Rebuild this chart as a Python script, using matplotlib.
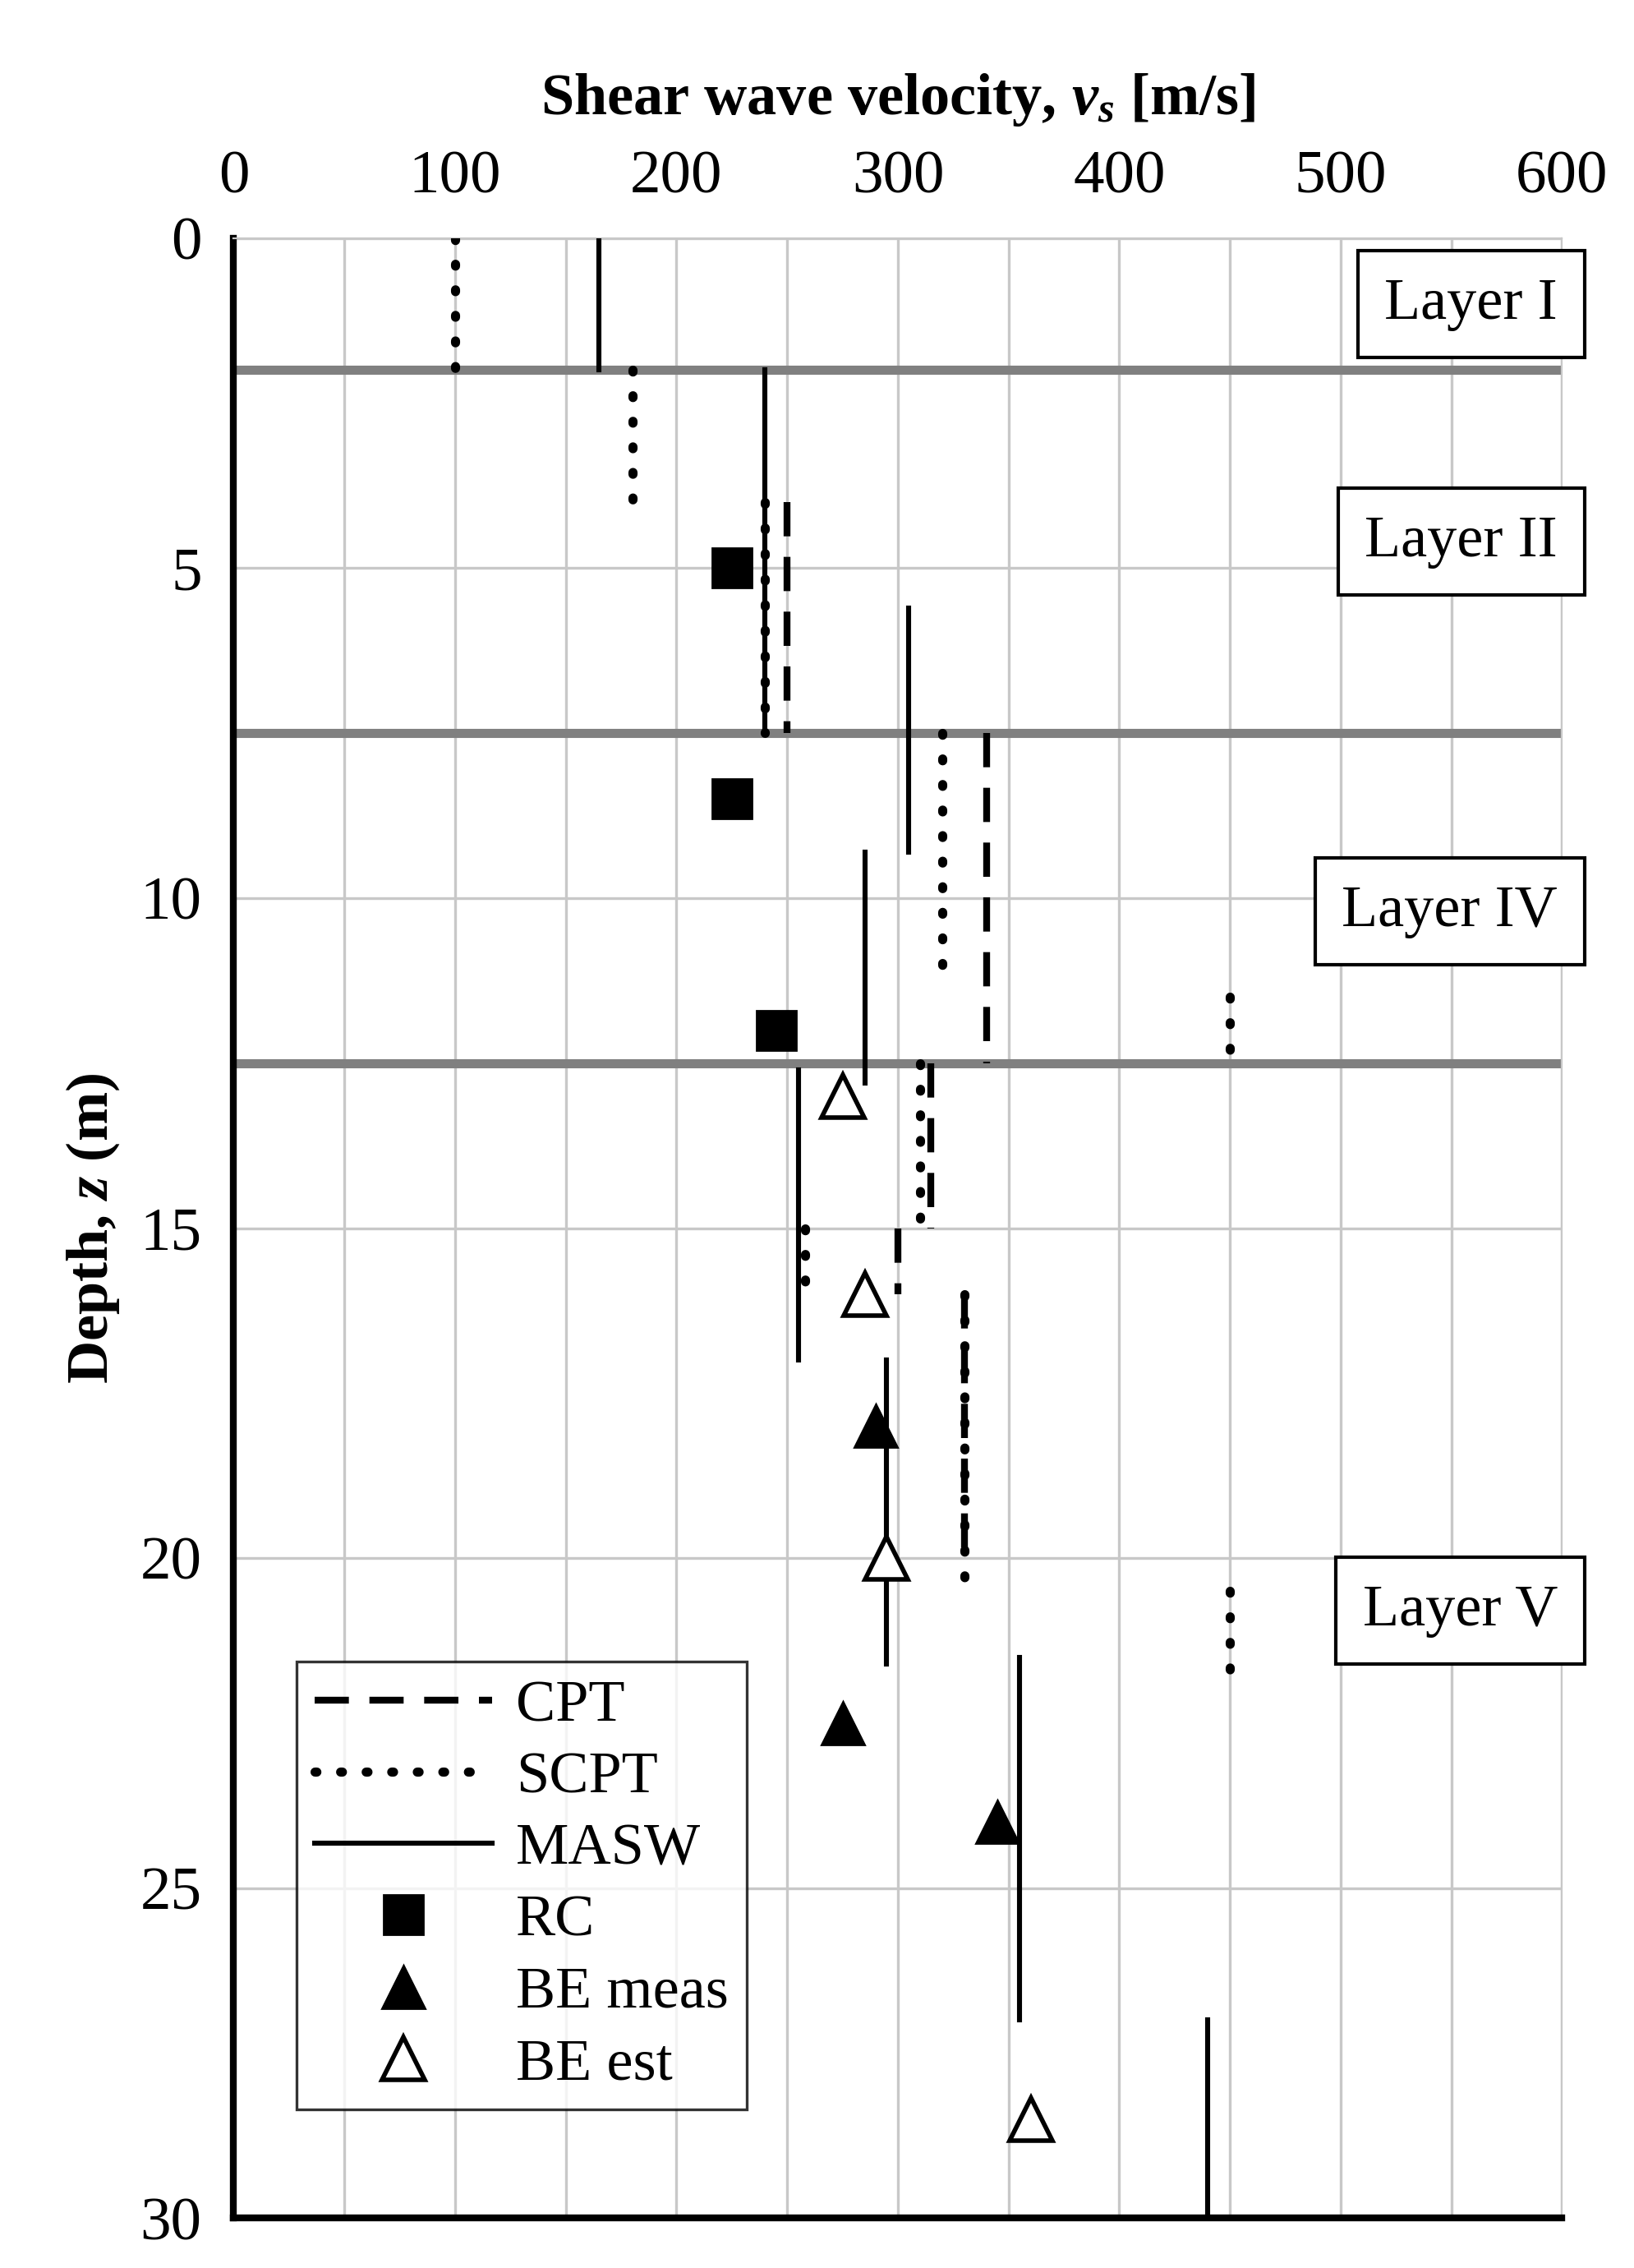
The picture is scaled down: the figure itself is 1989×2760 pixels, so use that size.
import matplotlib
matplotlib.use("Agg")
import matplotlib.pyplot as plt

plt.rcParams['font.family'] = ['Liberation Serif', 'DejaVu Serif']
plt.rcParams['mathtext.fontset'] = 'custom'
plt.rcParams['mathtext.it'] = 'Liberation Serif:italic:bold'

# CPT segments: (vs, z_top, z_bottom)
cpt = [(250, 4.0, 7.5), (340, 7.5, 12.5), (315, 12.5, 15.0), (300, 15.0, 16.0), (330, 16.0, 20.0)]
# SCPT segments
scpt = [(100, 0.0, 2.0), (180, 2.0, 4.0), (240, 4.0, 7.5), (320, 7.5, 11.3), (450, 11.5, 12.5),
        (310, 12.5, 15.0), (258, 15.0, 16.0), (330, 16.0, 20.3), (450, 20.5, 22.0)]
# MASW segments
masw = [(165, 0.0, 2.0), (240, 2.0, 7.5), (305, 5.6, 9.3), (285, 9.3, 12.8), (255, 12.6, 17.0),
        (295, 17.0, 21.6), (355, 21.5, 27.0), (440, 27.0, 30.0)]
rc_vs = [225, 225, 245]
rc_z = [5.0, 8.5, 12.0]
be_meas_vs = [290, 275, 345]
be_meas_z = [18.0, 22.5, 24.0]
be_est_vs = [275, 285, 295, 360]
be_est_z = [13.0, 16.0, 20.0, 28.5]
layer_bounds = [2.0, 7.5, 12.5]
layer_labels = [("Layer I", 1.0), ("Layer II", 4.6), ("Layer IV", 10.2), ("Layer V", 20.8)]

fig = plt.figure(figsize=(9.945, 13.8), dpi=200)
ax = fig.add_axes([0.143, 0.022, 0.813, 0.873])

for z in layer_bounds:
    ax.axhline(z, color='#808080', lw=4, zorder=2)

for i, (v, z0, z1) in enumerate(cpt):
    ax.plot([v, v], [z0, z1], color='black', lw=3, ls=(0, (5, 3)), label='CPT' if i == 0 else None, zorder=3)
for i, (v, z0, z1) in enumerate(scpt):
    ax.plot([v, v], [z0, z1], color='black', lw=4, ls=(0, (0.2, 2.6)), dash_capstyle='round',
            label='SCPT' if i == 0 else None, zorder=3)
for i, (v, z0, z1) in enumerate(masw):
    ax.plot([v, v], [z0, z1], color='black', lw=2.2, label='MASW' if i == 0 else None, zorder=3)

ax.plot(rc_vs, rc_z, 's', color='black', ms=17, ls='none', label='RC', zorder=4)
ax.plot(be_meas_vs, be_meas_z, '^', color='black', ms=19, ls='none', label='BE meas', zorder=4)
ax.plot(be_est_vs, be_est_z, '^', mfc='white', mec='black', mew=2, ms=19, ls='none', label='BE est', zorder=4)

for txt, z in layer_labels:
    ax.text(598, z, txt, ha='right', va='center', fontsize=26,
            bbox=dict(boxstyle='square,pad=0.45', fc='white', ec='black', lw=1.5), zorder=5)

ax.set_xlim(0, 600)
ax.set_ylim(30, 0)
ax.set_xticks(range(0, 601, 100))
ax.set_xticks(range(50, 600, 100), minor=True)
ax.set_yticks(range(0, 31, 5))
ax.grid(True, which='both', axis='x', color='#c8c8c8', lw=1.2)
ax.grid(True, which='major', axis='y', color='#c8c8c8', lw=1.2)
ax.tick_params(which='both', length=0, labelsize=27, pad=14)
ax.xaxis.tick_top()
ax.xaxis.set_label_position('top')
ax.set_xlabel('Shear wave velocity, $v_s$ [m/s]', fontsize=26, fontweight='bold', labelpad=16)
ax.set_ylabel('Depth, $z$ (m)', fontsize=26, fontweight='bold', labelpad=8)
for s in ['top', 'right']:
    ax.spines[s].set_color('#c8c8c8')
for s in ['left', 'bottom']:
    ax.spines[s].set_linewidth(3)

leg = ax.legend(loc='lower left', bbox_to_anchor=(0.025, 0.04), fontsize=26, frameon=True,
                fancybox=False, edgecolor='black', handlelength=3.0, handletextpad=0.4,
                borderpad=0.3, labelspacing=0.3)
leg.get_frame().set_linewidth(1.2)
leg.set_zorder(6)

fig.savefig('out.png', dpi=200)
